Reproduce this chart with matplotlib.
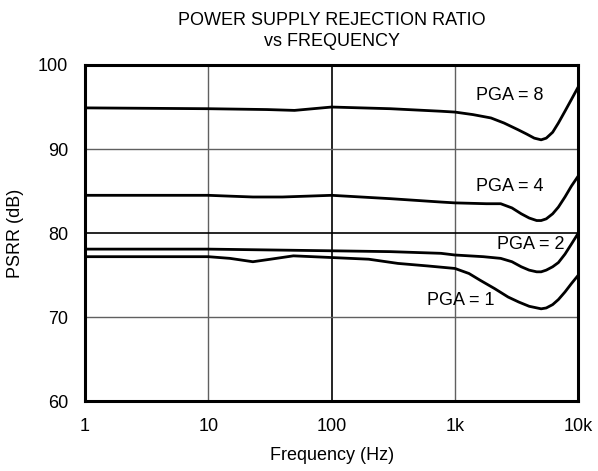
import matplotlib.pyplot as plt

plt.rcParams['font.family'] = ['Liberation Sans', 'DejaVu Sans']

# frequency (Hz) and PSRR (dB)
f8 = [1, 10, 30, 50, 100, 300, 770, 1000, 1400, 1960, 2500, 3250, 3800, 4400, 5000,
      5500, 6200, 6900, 7800, 8800, 10000]
psrr8 = [94.9, 94.8, 94.7, 94.6, 95.0, 94.8, 94.5, 94.4, 94.1, 93.7, 93.1, 92.3, 91.8, 91.3, 91.1,
         91.3, 92.0, 93.1, 94.5, 95.9, 97.4]

f4 = [1, 10, 15, 23, 40, 100, 300, 770, 1000, 1800, 2350, 2900, 3450, 4000, 4600, 5000,
      5500, 6200, 6900, 7800, 8800, 10000]
psrr4 = [84.5, 84.5, 84.4, 84.3, 84.3, 84.5, 84.1, 83.7, 83.6, 83.5, 83.5, 83.0, 82.3, 81.8, 81.5, 81.5,
         81.7, 82.3, 83.1, 84.3, 85.6, 86.8]

f2 = [1, 10, 100, 300, 770, 1000, 1700, 2350, 2900, 3450, 4000, 4600, 5000,
      5500, 6200, 6900, 7800, 8800, 10000]
psrr2 = [78.1, 78.1, 77.9, 77.8, 77.6, 77.4, 77.2, 77.0, 76.6, 76.0, 75.6, 75.4, 75.4,
         75.6, 76.0, 76.5, 77.5, 78.7, 80.0]

f1 = [1, 10, 15, 23, 32, 49, 100, 200, 345, 600, 1000, 1300, 1600, 2100, 2700, 3300, 4000, 5000,
      5500, 6200, 6900, 7800, 8800, 10000]
psrr1 = [77.2, 77.2, 77.0, 76.6, 76.9, 77.3, 77.1, 76.9, 76.4, 76.1, 75.8, 75.2, 74.4, 73.4, 72.4, 71.8, 71.3, 71.0,
         71.1, 71.5, 72.1, 73.0, 74.0, 75.0]

labels = ['PGA = 8', 'PGA = 4', 'PGA = 2', 'PGA = 1']
label_x = [2800, 2800, 4150, 1120]
label_y = [96.4, 85.6, 78.7, 72.0]

xticks = [1, 10, 100, 1000, 10000]
xticklabels = ['1', '10', '100', '1k', '10k']
yticks = [60, 70, 80, 90, 100]

fs = 13

fig = plt.figure(figsize=(5.98, 4.71), dpi=100)
ax = fig.add_axes([0.142, 0.148, 0.825, 0.714])

for x, y in [(f8, psrr8), (f4, psrr4), (f2, psrr2), (f1, psrr1)]:
    ax.plot(x, y, color='black', lw=2, solid_joinstyle='round')

for t, x, y in zip(labels, label_x, label_y):
    ax.text(x, y, t, fontsize=fs, ha='center', va='center')

ax.set_xscale('log')
ax.set_xlim(1, 10000)
ax.set_ylim(60, 100)
ax.set_xticks(xticks)
ax.set_xticklabels(xticklabels)
ax.set_yticks(yticks)
ax.minorticks_off()
ax.tick_params(axis='x', length=0, labelsize=fs, pad=12)
ax.tick_params(axis='y', length=0, labelsize=fs, pad=12)

# grid: grey lines, darker at 100 Hz and 80 dB
for xv in [10, 1000]:
    ax.axvline(xv, color='#606060', lw=1, zorder=0)
ax.axvline(100, color='black', lw=1.2, zorder=0)
for yv in [70, 90]:
    ax.axhline(yv, color='#606060', lw=1, zorder=0)
ax.axhline(80, color='black', lw=1.2, zorder=0)

for s in ax.spines.values():
    s.set_linewidth(2.2)

ax.set_xlabel('Frequency (Hz)', fontsize=fs, labelpad=9)
ax.set_ylabel('PSRR (dB)', fontsize=fs, labelpad=10)
ax.set_title('POWER SUPPLY REJECTION RATIO\nvs FREQUENCY', fontsize=fs, pad=13.5, linespacing=1.3)

fig.savefig('out.png', dpi=100)
